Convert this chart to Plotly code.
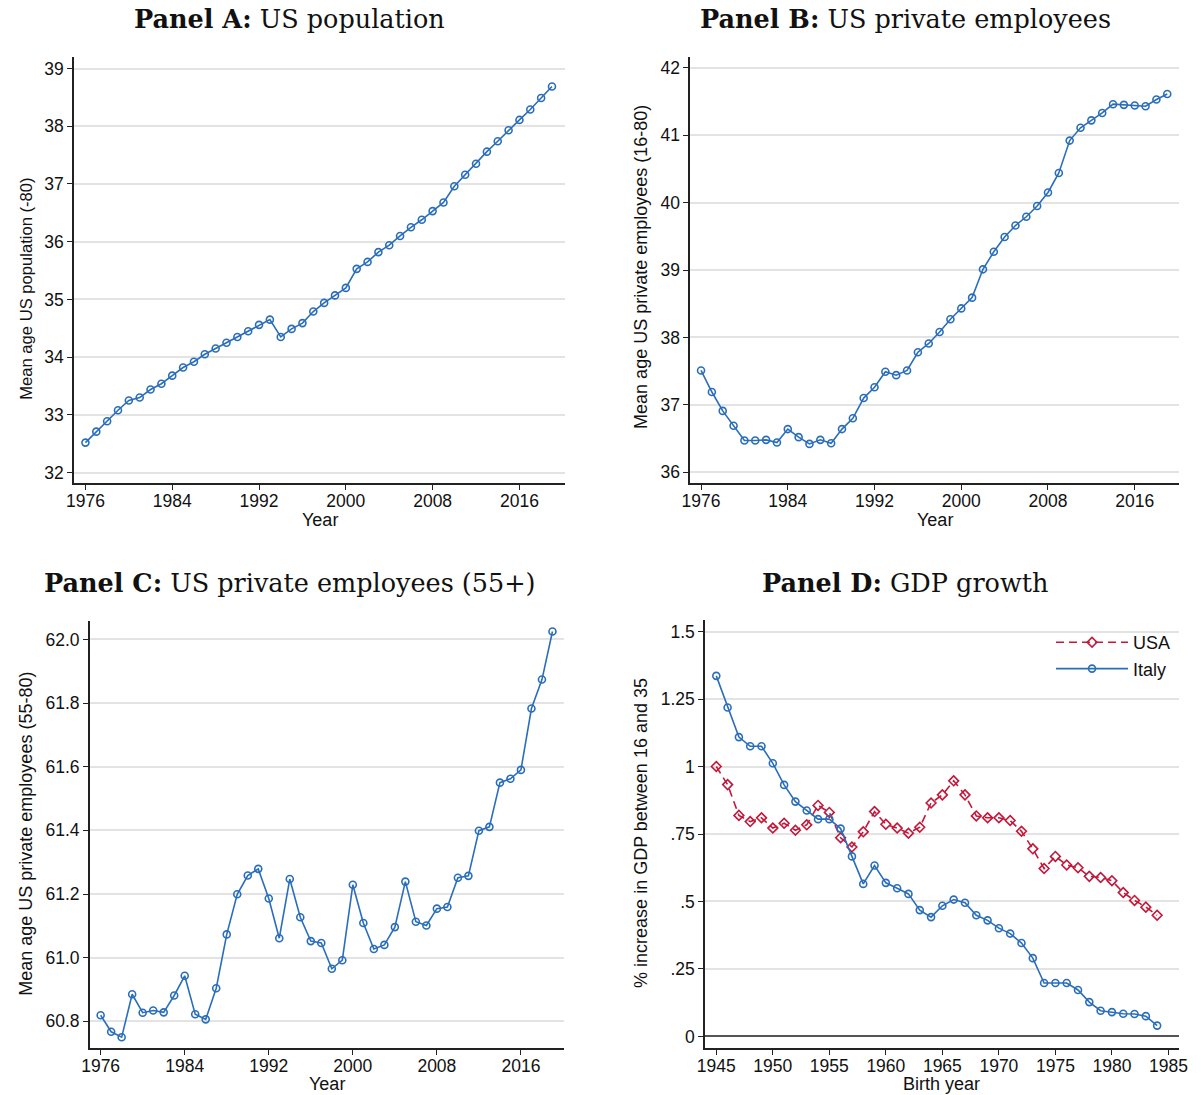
import plotly.graph_objects as go

# ---------------- data ----------------
years = list(range(1976, 2020))

pop_mean_age = [32.52, 32.71, 32.89, 33.08, 33.25, 33.30, 33.44, 33.54, 33.68, 33.82,
                33.92, 34.05, 34.15, 34.25, 34.35, 34.45, 34.56, 34.65, 34.35, 34.49,
                34.59, 34.79, 34.94, 35.07, 35.20, 35.53, 35.65, 35.82, 35.94, 36.10,
                36.25, 36.38, 36.53, 36.68, 36.96, 37.16, 37.35, 37.56, 37.74, 37.93,
                38.11, 38.29, 38.49, 38.69]

priv_mean_age = [37.51, 37.19, 36.91, 36.69, 36.47, 36.47, 36.48, 36.44, 36.64, 36.52,
                 36.42, 36.48, 36.43, 36.64, 36.80, 37.10, 37.26, 37.49, 37.44, 37.51,
                 37.78, 37.91, 38.08, 38.27, 38.43, 38.59, 39.01, 39.27, 39.49, 39.66,
                 39.79, 39.95, 40.15, 40.44, 40.92, 41.11, 41.22, 41.33, 41.46, 41.45,
                 41.44, 41.43, 41.53, 41.61]

priv55_mean_age = [60.819, 60.767, 60.750, 60.885, 60.827, 60.834, 60.828, 60.881, 60.943, 60.822,
                   60.806, 60.904, 61.073, 61.199, 61.258, 61.279, 61.186, 61.061, 61.247, 61.127,
                   61.052, 61.046, 60.965, 60.992, 61.229, 61.109, 61.027, 61.040, 61.096, 61.239,
                   61.113, 61.101, 61.154, 61.159, 61.251, 61.257, 61.399, 61.411, 61.550, 61.562,
                   61.590, 61.783, 61.874, 62.025]

birth_years = list(range(1945, 1985))

gdp_usa = [1.000, 0.933, 0.819, 0.796, 0.810, 0.772, 0.790, 0.764, 0.784, 0.856,
           0.830, 0.736, 0.702, 0.758, 0.833, 0.786, 0.772, 0.753, 0.775, 0.865,
           0.895, 0.947, 0.895, 0.817, 0.810, 0.810, 0.800, 0.760, 0.695, 0.622,
           0.667, 0.635, 0.625, 0.593, 0.589, 0.577, 0.533, 0.504, 0.479, 0.449]

gdp_italy = [1.336, 1.219, 1.109, 1.075, 1.075, 1.012, 0.932, 0.870, 0.837, 0.805,
             0.805, 0.770, 0.667, 0.565, 0.633, 0.569, 0.549, 0.528, 0.468, 0.442,
             0.484, 0.507, 0.495, 0.449, 0.430, 0.401, 0.381, 0.346, 0.290, 0.198,
             0.198, 0.198, 0.172, 0.127, 0.095, 0.090, 0.084, 0.083, 0.075, 0.040]

year_ticks = [1976, 1984, 1992, 2000, 2008, 2016]
birth_ticks = [1945, 1950, 1955, 1960, 1965, 1970, 1975, 1980, 1985]
gdp_ticks = [0, 0.25, 0.5, 0.75, 1, 1.25, 1.5]
gdp_tick_text = ["0", ".25", ".5", ".75", "1", "1.25", "1.5"]

# ---------------- styling ----------------
W, H = 1201, 1095
BLUE = "#2a6ebb"
RED = "#c4183a"
GRID = "#e3e3e3"
SANS = "Liberation Sans, Arial, sans-serif"
SERIF = "DejaVu Serif, serif"


def px_x(p):
    return p / W


def px_y(p):
    return 1 - p / H


fig = go.Figure()

line_kw = dict(width=1.6)
circ = dict(symbol="circle-open", size=7, line=dict(width=1.6, color=BLUE), color=BLUE)

fig.add_trace(go.Scatter(x=years, y=pop_mean_age, mode="lines+markers",
                         line=dict(color=BLUE, **line_kw), marker=circ,
                         xaxis="x", yaxis="y", showlegend=False))
fig.add_trace(go.Scatter(x=years, y=priv_mean_age, mode="lines+markers",
                         line=dict(color=BLUE, **line_kw), marker=circ,
                         xaxis="x2", yaxis="y2", showlegend=False))
fig.add_trace(go.Scatter(x=years, y=priv55_mean_age, mode="lines+markers",
                         line=dict(color=BLUE, **line_kw), marker=circ,
                         xaxis="x3", yaxis="y3", showlegend=False))
fig.add_trace(go.Scatter(x=birth_years, y=gdp_usa, mode="lines+markers", name="USA",
                         legendgroup="usa",
                         line=dict(color=RED, width=1.6, dash="8px,5px"),
                         marker=dict(symbol="diamond-open", size=7.5,
                                     line=dict(width=1.6, color=RED), color=RED),
                         xaxis="x4", yaxis="y4"))
fig.add_trace(go.Scatter(x=birth_years, y=gdp_italy, mode="lines+markers", name="Italy",
                         legendgroup="italy",
                         line=dict(color=BLUE, **line_kw), marker=circ,
                         xaxis="x4", yaxis="y4"))

tickfont = dict(family=SANS, size=17.5, color="#111")
common_x = dict(showline=True, linecolor="#222", linewidth=1.5, ticks="outside",
                ticklen=5, tickwidth=1.3, tickcolor="#222", showgrid=False,
                zeroline=False, tickfont=tickfont, ticklabelstandoff=-4)
common_y = dict(showline=True, linecolor="#222", linewidth=1.5, ticks="outside",
                ticklen=5, tickwidth=1.3, tickcolor="#222", showgrid=True,
                gridcolor=GRID, gridwidth=1.5, zeroline=False, tickfont=tickfont)

# panel pixel boxes: (left, right, top, bottom)
A = (67, 565, 57, 483)
B = (692, 1188, 57, 483)
C = (83, 564, 621, 1048)
D = (707, 1188, 620, 1048)


def dom(box):
    l, r, t, b = box
    return [px_x(l), px_x(r)], [px_y(b), px_y(t)]


ax, ay = dom(A)
bx, by = dom(B)
cx, cy = dom(C)
dx, dy = dom(D)

fig.update_layout(
    width=W, height=H,
    margin=dict(l=0, r=0, t=0, b=0),
    paper_bgcolor="white", plot_bgcolor="white",
    xaxis=dict(domain=ax, anchor="y", range=[1974.95, 2020.2], tickvals=year_ticks, **common_x),
    yaxis=dict(domain=ay, anchor="x", range=[31.82, 39.2], tickvals=list(range(32, 40)), **common_y),
    xaxis2=dict(domain=bx, anchor="y2", range=[1975.0, 2020.1], tickvals=year_ticks, **common_x),
    yaxis2=dict(domain=by, anchor="x2", range=[35.84, 42.16], tickvals=list(range(36, 43)), **common_y),
    xaxis3=dict(domain=cx, anchor="y3", range=[1974.97, 2020.1], tickvals=year_ticks, **common_x),
    yaxis3=dict(domain=cy, anchor="x3", range=[60.716, 62.058],
                tickvals=[60.8, 61.0, 61.2, 61.4, 61.6, 61.8, 62.0], tickformat=".1f", **common_y),
    xaxis4=dict(domain=dx, anchor="y4", range=[1944.0, 1985.95], tickvals=birth_ticks, **common_x),
    yaxis4=dict(domain=dy, anchor="x4", range=[-0.043, 1.543], tickvals=gdp_ticks,
                ticktext=gdp_tick_text, **common_y),
    legend=dict(x=px_x(1058), y=px_y(624), xanchor="left", yanchor="top",
                bgcolor="rgba(0,0,0,0)", font=dict(family=SANS, size=18, color="#111"),
                itemwidth=72, tracegroupgap=0, traceorder="grouped"),
)

# zero line panel D
fig.update_yaxes(zeroline=True, zerolinecolor="#555", zerolinewidth=1.5, selector=dict(anchor="x4"))

annotations = []


def title(text_bold, text_rest, cx_px, cy_px):
    annotations.append(dict(text=f"<b>{text_bold}</b> {text_rest}", x=px_x(cx_px), y=px_y(cy_px),
                            xref="paper", yref="paper", showarrow=False, xanchor="center",
                            yanchor="middle", font=dict(family=SERIF, size=25.5, color="#111")))


title("Panel A:", "US population", 286, 19)
title("Panel B:", "US private employees", 910, 19)
title("Panel C:", "US private employees (55+)", 286, 583)
title("Panel D:", "GDP growth", 910, 583)


def ytitle(text, x_px, y_px, size=18):
    annotations.append(dict(text=text, x=px_x(x_px), y=px_y(y_px), xref="paper", yref="paper",
                            showarrow=False, textangle=-90, xanchor="center", yanchor="middle",
                            font=dict(family=SANS, size=size, color="#111")))


def xtitle(text, x_px, y_px):
    annotations.append(dict(text=text, x=px_x(x_px), y=px_y(y_px), xref="paper", yref="paper",
                            showarrow=False, xanchor="center", yanchor="middle",
                            font=dict(family=SANS, size=18, color="#111")))


ytitle("Mean age US population (-80)", 18, 289, size=16.6)
ytitle("Mean age US private employees (16-80)", 642, 267)
ytitle("Mean age US private employees (55-80)", 18, 834)
ytitle("% increase in GDP between 16 and 35", 642, 833)
xtitle("Year", 316, 520)
xtitle("Year", 940, 520)
xtitle("Year", 324, 1084)
xtitle("Birth year", 947, 1084)

fig.update_layout(annotations=annotations)

fig.write_html("out.html", config={"displayModeBar": False},
               post_script="document.body.style.margin='0px';")
